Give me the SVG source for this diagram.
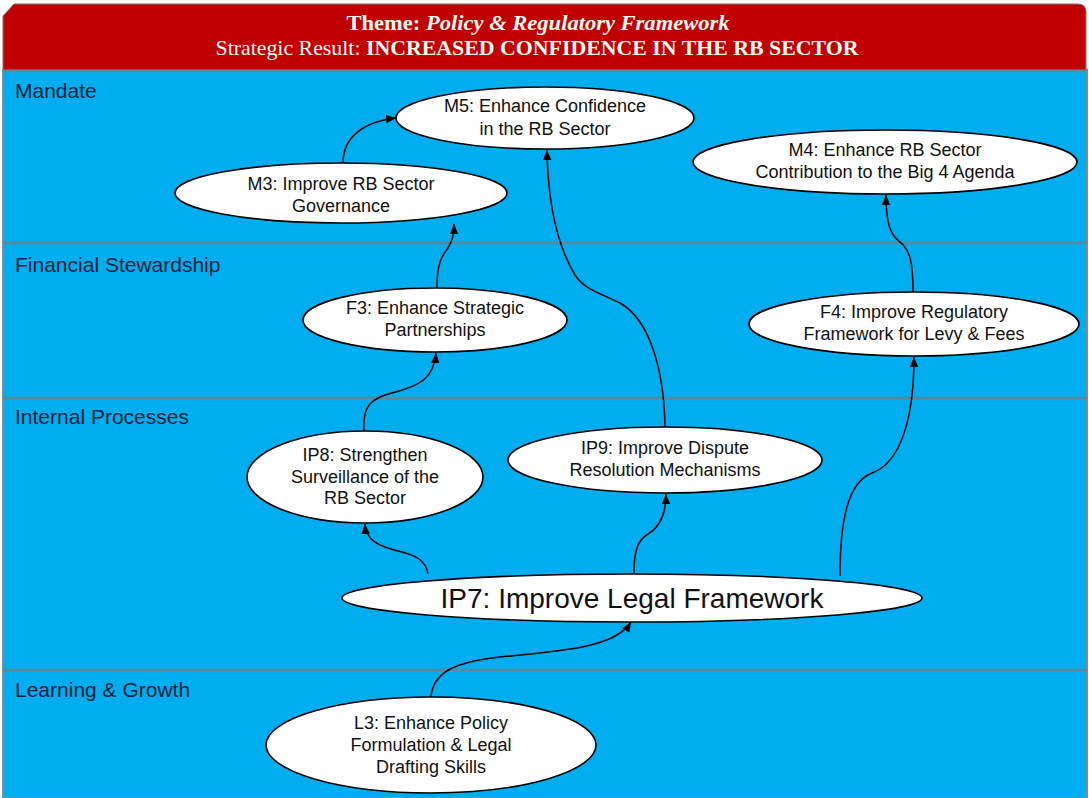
<svg xmlns="http://www.w3.org/2000/svg" width="1089" height="798" viewBox="0 0 1089 798">
  <defs>
    <marker id="arrow" markerUnits="userSpaceOnUse" markerWidth="12" markerHeight="10" refX="10" refY="5" orient="auto">
      <path d="M0,0.8 L10,5 L0,9.2 Z" fill="#000"/>
    </marker>
    <style>
      .lane { fill: #00adef; }
      .sep { stroke: #5f8798; stroke-width: 2.5; }
      .lane-label { font-family: "Liberation Sans", Arial, sans-serif; font-size: 21px; fill: #0f1f3a; }
      .node ellipse { fill: #ffffff; stroke: #000; stroke-width: 1.6; }
      .node text { font-family: "Liberation Sans", Arial, sans-serif; font-size: 18px; fill: #111; text-anchor: middle; }
      .node text.big { font-size: 28px; }
      .conn path { fill: none; stroke: #000; stroke-width: 1.5; marker-end: url(#arrow); }
      .head { font-family: "Liberation Serif", "Times New Roman", serif; font-size: 21px; fill: #fffaf2; text-anchor: middle; }
    </style>
  </defs>

  <!-- background and perspective lanes -->
  <rect x="0" y="0" width="1089" height="798" fill="#ffffff"/>
  <rect class="lane" x="3" y="70" width="1084" height="728"/>
  <rect x="3" y="70" width="1084" height="728" fill="none" stroke="#7a8c96" stroke-width="2"/>

  <!-- header band -->
  <g id="header">
    <path d="M3,16 L14,4 L1078,4 Q1086,4 1086,12 L1086,70 L3,70 Z" fill="#c00000" stroke="#8a7070" stroke-width="1"/>
    <text class="head" x="538" y="30" textLength="383" lengthAdjust="spacingAndGlyphs"><tspan font-weight="bold">Theme: </tspan><tspan font-weight="bold" font-style="italic">Policy &amp; Regulatory Framework</tspan></text>
    <text class="head" x="537" y="55" textLength="643" lengthAdjust="spacingAndGlyphs"><tspan>Strategic Result: </tspan><tspan font-weight="bold">INCREASED CONFIDENCE IN THE RB SECTOR</tspan></text>
  </g>

  <!-- lane separators -->
  <g id="separators">
    <line class="sep" x1="3" y1="71" x2="1087" y2="71"/>
    <line class="sep" x1="3" y1="243" x2="1087" y2="243"/>
    <line class="sep" x1="3" y1="398" x2="1087" y2="398"/>
    <line class="sep" x1="3" y1="670" x2="1087" y2="670"/>
  </g>

  <g id="lane-labels">
    <text class="lane-label" x="15" y="98">Mandate</text>
    <text class="lane-label" x="15" y="272">Financial Stewardship</text>
    <text class="lane-label" x="15" y="424">Internal Processes</text>
    <text class="lane-label" x="15" y="697">Learning &amp; Growth</text>
  </g>

  <!-- connectors -->
  <g id="connectors" class="conn">
    <path d="M343,163 C343,138 362,122 396,118"/>
    <path d="M437,288 C437,262 442,256 448,248 C452,241 454,236 454,224"/>
    <path d="M364,431 C362,405 372,398 392,393 C420,386 434,378 436,353"/>
    <path d="M428,574 C426,560 415,555 398,551 C378,546 366,540 365,524"/>
    <path d="M634,573 C634,550 638,540 648,534 C660,527 666,515 666,494"/>
    <path d="M665,427 C664,370 650,320 620,303 C598,292 585,290 575,275 C560,250 548,210 547,150"/>
    <path d="M840,576 C840,520 848,482 872,473 C900,463 914,420 914,357"/>
    <path d="M913,292 C913,262 910,250 900,242 C890,235 886,222 886,195"/>
    <path d="M431,697 C433,672 455,662 500,657 C560,651 615,648 631,622"/>
  </g>

  <!-- objectives -->
  <g id="M5" class="node">
    <ellipse cx="545" cy="118" rx="149" ry="31"/>
    <text x="545" y="112">M5: Enhance Confidence</text>
    <text x="545" y="135">in the RB Sector</text>
  </g>
  <g id="M3" class="node">
    <ellipse cx="341" cy="193" rx="166" ry="30"/>
    <text x="341" y="190">M3: Improve RB Sector</text>
    <text x="341" y="212">Governance</text>
  </g>
  <g id="M4" class="node">
    <ellipse cx="885" cy="162" rx="192" ry="32"/>
    <text x="885" y="156">M4: Enhance RB Sector</text>
    <text x="885" y="178">Contribution to the Big 4 Agenda</text>
  </g>
  <g id="F3" class="node">
    <ellipse cx="435" cy="320" rx="132" ry="32"/>
    <text x="435" y="314">F3: Enhance Strategic</text>
    <text x="435" y="336">Partnerships</text>
  </g>
  <g id="F4" class="node">
    <ellipse cx="914" cy="324" rx="165" ry="32"/>
    <text x="914" y="318">F4: Improve Regulatory</text>
    <text x="914" y="340">Framework for Levy &amp; Fees</text>
  </g>
  <g id="IP8" class="node">
    <ellipse cx="365" cy="477" rx="118" ry="46"/>
    <text x="365" y="461">IP8: Strengthen</text>
    <text x="365" y="483">Surveillance of the</text>
    <text x="365" y="504">RB Sector</text>
  </g>
  <g id="IP9" class="node">
    <ellipse cx="665" cy="460" rx="157" ry="33"/>
    <text x="665" y="454">IP9: Improve Dispute</text>
    <text x="665" y="476">Resolution Mechanisms</text>
  </g>
  <g id="IP7" class="node">
    <ellipse cx="632" cy="598" rx="290" ry="24"/>
    <text class="big" x="632" y="608">IP7: Improve Legal Framework</text>
  </g>
  <g id="L3" class="node">
    <ellipse cx="431" cy="745" rx="165" ry="48"/>
    <text x="431" y="729">L3: Enhance Policy</text>
    <text x="431" y="751">Formulation &amp; Legal</text>
    <text x="431" y="773">Drafting Skills</text>
  </g>
</svg>
